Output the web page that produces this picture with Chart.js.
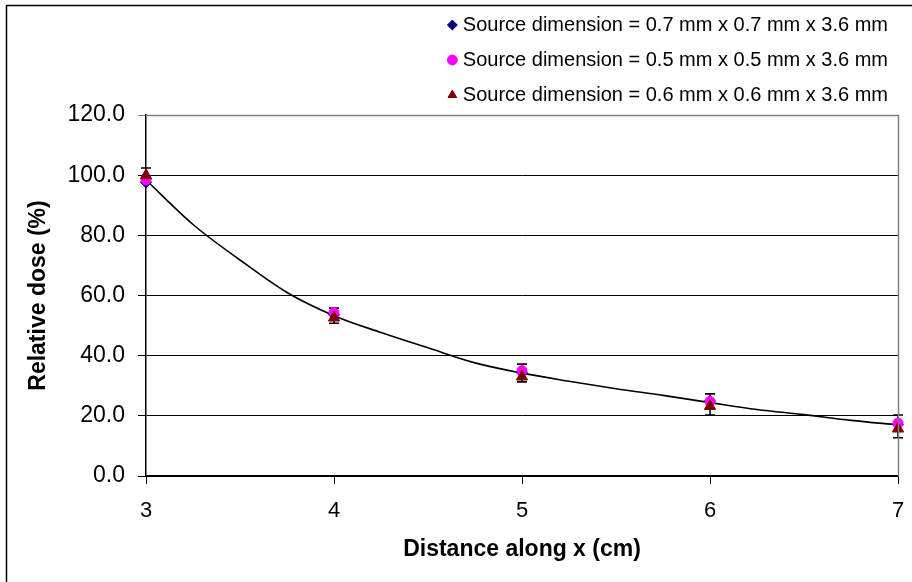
<!DOCTYPE html>
<html><head><meta charset="utf-8">
<script src="https://cdn.jsdelivr.net/npm/chart.js@4/dist/chart.umd.min.js"></script>
<style>html,body{margin:0;padding:0;background:#fff}canvas{display:block}</style>
</head><body>
<canvas id="c" width="912" height="582"></canvas>
<script>
const distances = [3, 4, 5, 6, 7];
const seriesLabels = [
  'Source dimension = 0.7 mm x 0.7 mm x 3.6 mm',
  'Source dimension = 0.5 mm x 0.5 mm x 3.6 mm',
  'Source dimension = 0.6 mm x 0.6 mm x 3.6 mm'
];
const dose07 = [97.6, 53.6, 34.3, 24.9, 17.1];
const dose05 = [98.4, 54.3, 35.0, 24.8, 17.6];
const dose06 = [99.9, 52.6, 33.0, 23.2, 15.7];
const errLow06 = [97.6, 50.8, 31.3, 20.3, 12.7];
const errHigh06 = [102.4, 55.8, 37.2, 27.3, 20.3];
const trendX = [3, 3.25, 3.5, 3.75, 4, 4.25, 4.5, 4.75, 5, 5.25, 5.5, 5.75, 6, 6.25, 6.5, 6.75, 7];
const trendY = [98.4, 83.6, 71.8, 61.0, 53.3, 47.7, 42.6, 37.6, 34.2, 31.5, 29.0, 26.8, 24.4, 22.1, 20.4, 18.5, 17.0];
const yMin = 0, yMax = 120, yStep = 20;
const xMin = 3, xMax = 7, xStep = 1;
const xTitle = 'Distance along x (cm)';
const yTitle = 'Relative dose (%)';

const FONT = "'Liberation Sans', Arial, sans-serif";
const pts = (xs, ys) => xs.map((x, i) => ({x, y: ys[i]}));

const decor = {
  id: 'decor',
  beforeDraw(chart) {
    const c = chart.ctx;
    c.save(); c.fillStyle = '#fff'; c.fillRect(0, 0, chart.width, chart.height); c.restore();
  },
  afterLayout(chart) {
    if (chart.legend) { chart.legend.left += 5; chart.legend.right += 5; }
  },
  beforeDatasetsDraw(chart) {
    const c = chart.ctx, xs = chart.scales.x, ys = chart.scales.y;
    c.save();
    c.strokeStyle = '#000'; c.lineWidth = 1.6;
    distances.forEach((d, i) => {
      const x = xs.getPixelForValue(d);
      const yl = ys.getPixelForValue(errLow06[i]);
      const yh = ys.getPixelForValue(errHigh06[i]);
      c.beginPath();
      c.moveTo(x, yl); c.lineTo(x, yh);
      c.moveTo(x - 5, yl); c.lineTo(x + 5, yl);
      c.moveTo(x - 5, yh); c.lineTo(x + 5, yh);
      c.stroke();
    });
    c.restore();
  },
  afterDraw(chart) {
    const c = chart.ctx, a = chart.chartArea;
    c.save();
    c.strokeStyle = '#808080'; c.lineWidth = 1.5;
    c.beginPath();
    c.moveTo(a.left, Math.round(a.top) + 0.5); c.lineTo(Math.round(a.right) + 0.5, Math.round(a.top) + 0.5);
    c.lineTo(Math.round(a.right) + 0.5, a.bottom);
    c.stroke();
    c.strokeStyle = '#000'; c.lineWidth = 1.5;
    c.beginPath();
    c.moveTo(6.5, chart.height + 5); c.lineTo(6.5, 5.5); c.lineTo(chart.width + 5, 5.5);
    c.stroke();
    c.restore();
  }
};

new Chart(document.getElementById('c'), {
  type: 'scatter',
  data: {
    datasets: [
      { label: seriesLabels[0], data: pts(distances, dose07), pointStyle: 'rectRot', pointRadius: 5.5,
        backgroundColor: '#000080', borderColor: '#000080', borderWidth: 1, order: 3, clip: false },
      { label: seriesLabels[1], data: pts(distances, dose05), pointStyle: 'circle', pointRadius: 5,
        backgroundColor: '#FF00FF', borderColor: '#FF00FF', borderWidth: 1, order: 2, clip: false },
      { label: seriesLabels[2], data: pts(distances, dose06), pointStyle: 'triangle', pointRadius: 6.5,
        backgroundColor: '#800000', borderColor: '#800000', borderWidth: 1, order: 1, clip: false },
      { label: '', data: pts(trendX, trendY), showLine: true, pointRadius: 0, borderColor: '#000',
        backgroundColor: '#000', borderWidth: 1.6, cubicInterpolationMode: 'monotone', order: 4 }
    ]
  },
  options: {
    responsive: false,
    animation: false,
    devicePixelRatio: 1,
    layout: { padding: { left: 12, right: 14, top: 0, bottom: 0 } },
    plugins: {
      tooltip: { enabled: false },
      legend: {
        position: 'top', align: 'end', fullSize: false,
        labels: {
          usePointStyle: true, boxWidth: 1, boxHeight: 7, padding: 15,
          color: '#000', font: { family: FONT, size: 20 },
          filter: (item) => item.text !== '',
          sort: (a, b) => a.datasetIndex - b.datasetIndex
        }
      }
    },
    scales: {
      x: {
        type: 'linear', min: xMin, max: xMax,
        afterFit(s) { s.height = 106; s.paddingLeft = 0; s.paddingRight = 0; },
        ticks: { stepSize: xStep, color: '#000', padding: 14, font: { family: FONT, size: 22 } },
        grid: { drawOnChartArea: false, drawTicks: true, tickLength: 8, color: '#000', lineWidth: 1 },
        border: { color: '#000', width: 1.5 },
        title: { display: true, text: xTitle, color: '#000', font: { family: FONT, size: 23, weight: 'bold' }, padding: { top: 0, bottom: 19 } }
      },
      y: {
        min: yMin, max: yMax,
        afterFit(s) { s.width = 134; },
        ticks: { stepSize: yStep, color: '#000', padding: 13, font: { family: FONT, size: 23 },
          callback: (v) => Number(v).toFixed(1) },
        grid: { color: (ctx) => (ctx.tick && ctx.tick.value === yMax) ? '#808080' : '#000', lineWidth: 1, tickLength: 8, drawTicks: true },
        border: { color: '#000', width: 1.5 },
        title: { display: true, text: yTitle, color: '#000', font: { family: FONT, size: 23, weight: 'bold' }, padding: { top: 13, bottom: 0 } }
      }
    }
  },
  plugins: [decor]
});
</script>
</body></html>
